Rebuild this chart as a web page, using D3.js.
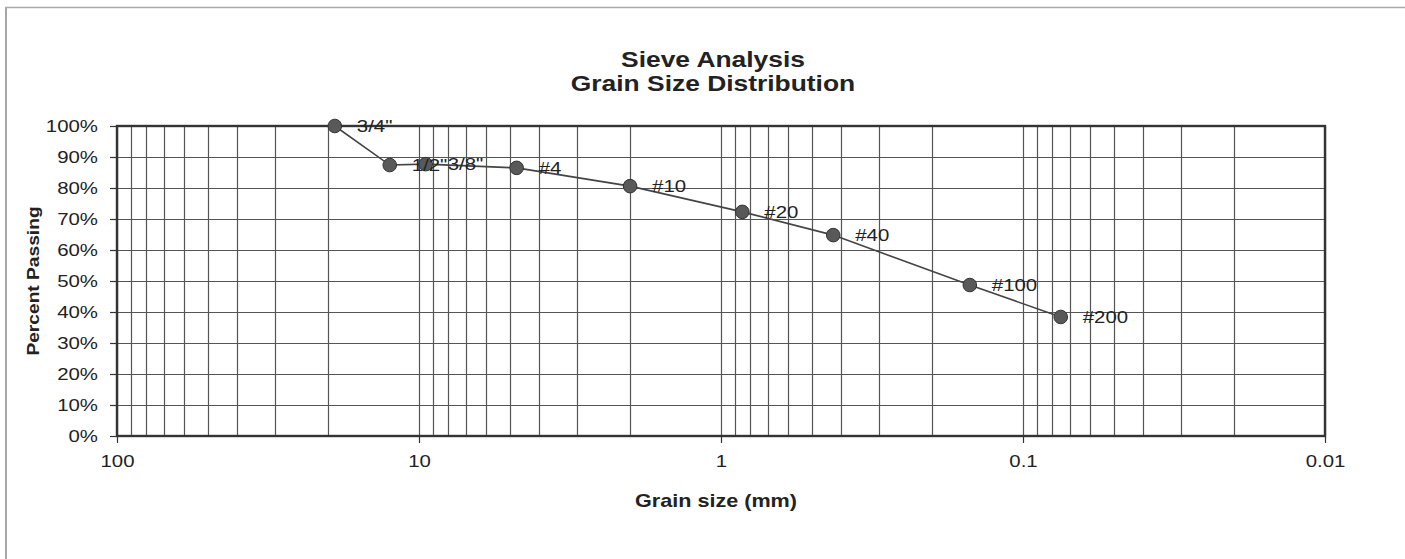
<!DOCTYPE html>
<html><head><meta charset="utf-8">
<script src="https://cdn.jsdelivr.net/npm/d3@7"></script>
<style>
html,body{margin:0;padding:0;background:#fff;}
svg{display:block;font-family:"Liberation Sans",Arial,Helvetica,sans-serif;}
</style></head>
<body>
<svg id="chart" width="1405" height="559"></svg>
<script>
const sieves = ["3/4\"", "1/2\"", "3/8\"", "#4", "#10", "#20", "#40", "#100", "#200"];
const grainSize = [19, 12.5, 9.5, 4.75, 2.0, 0.85, 0.425, 0.15, 0.075];
const percentPassing = [100, 87.4, 87.7, 86.5, 80.6, 72.3, 64.8, 48.7, 38.4];
const xTickValues = [100, 10, 1, 0.1, 0.01];
const xTickLabels = ["100", "10", "1", "0.1", "0.01"];
const yTickValues = [0,10,20,30,40,50,60,70,80,90,100];

const SX = 1.2; // horizontal stretch of the scanned lettering
const FONT = "'Liberation Sans',Arial,Helvetica,sans-serif";

const svg = d3.select("#chart");
const W = 1405, H = 559;
const m = {left:117, right:W-1325, top:126, bottom:H-436};
const iw = W - m.left - m.right, ih = H - m.top - m.bottom;

// outer frame
svg.append("line").attr("x1",6).attr("x2",6).attr("y1",7).attr("y2",H).attr("stroke","#888").attr("stroke-width",1.5);
svg.append("line").attr("x1",5).attr("x2",W).attr("y1",7.5).attr("y2",7.5).attr("stroke","#aaa").attr("stroke-width",1.5);

const x = d3.scaleLog().domain([100, 0.01]).range([0, iw]);
const y = d3.scaleLinear().domain([0, 100]).range([ih, 0]);

const g = svg.append("g").attr("transform",`translate(${m.left},${m.top})`);

// minor + major vertical grid
const gridVals = [];
for (let e = -2; e < 2; e++) {
  for (let k = 1; k <= 9; k++) gridVals.push(k * Math.pow(10, e));
}
gridVals.push(100);
g.append("g").selectAll("line").data(gridVals).join("line")
  .attr("x1", d => Math.round(x(d)) + 0.5).attr("x2", d => Math.round(x(d)) + 0.5)
  .attr("y1", 0).attr("y2", ih)
  .attr("stroke", "#555").attr("stroke-width", 1.2);

// horizontal grid
g.append("g").selectAll("line").data(yTickValues).join("line")
  .attr("x1", 0).attr("x2", iw)
  .attr("y1", d => Math.round(y(d)) + 0.5).attr("y2", d => Math.round(y(d)) + 0.5)
  .attr("stroke", "#555").attr("stroke-width", 1.2);

// plot border
g.append("rect").attr("x",0).attr("y",0).attr("width",iw).attr("height",ih)
  .attr("fill","none").attr("stroke","#333").attr("stroke-width",2.4);

function stretchAxisText(sel) {
  sel.each(function() {
    const t = d3.select(this);
    const xv = +t.attr("x") || 0;
    t.attr("x", xv / SX).attr("transform", `scale(${SX},1)`);
  });
}

// y axis
const yAxis = d3.axisLeft(y).tickValues(yTickValues).tickFormat(d => d + "%").tickSize(7).tickPadding(12);
const ya = g.append("g").call(yAxis);
ya.select(".domain").remove();
ya.selectAll(".tick line").attr("stroke","#333").attr("stroke-width",1.2);
ya.selectAll(".tick text").attr("font-size",17).attr("fill","#222").attr("font-family",FONT)
  .call(stretchAxisText);

// x axis
const xAxis = d3.axisBottom(x).tickValues(xTickValues)
  .tickFormat((d,i) => xTickLabels[i]).tickSize(7).tickPadding(12);
const xa = g.append("g").attr("transform",`translate(0,${ih})`).call(xAxis);
xa.select(".domain").remove();
xa.selectAll(".tick line").attr("stroke","#333").attr("stroke-width",1.2);
xa.selectAll(".tick text").attr("font-size",17).attr("fill","#222").attr("font-family",FONT)
  .call(stretchAxisText);

// data
const data = sieves.map((s,i) => ({s, d: grainSize[i], p: percentPassing[i]}));
const line = d3.line().x(d => x(d.d)).y(d => y(d.p));
g.append("path").datum(data).attr("d", line)
  .attr("fill","none").attr("stroke","#444").attr("stroke-width",1.6);

g.append("g").selectAll("circle").data(data).join("circle")
  .attr("cx", d => x(d.d)).attr("cy", d => y(d.p)).attr("r", 6.8)
  .attr("fill", "#595959").attr("stroke", "#333").attr("stroke-width", 1);

g.append("g").selectAll("text").data(data).join("text")
  .attr("transform", d => `translate(${x(d.d) + 22},${y(d.p) + 6}) scale(${SX},1)`)
  .attr("font-size", 17).attr("fill", "#222").text(d => d.s);

// titles
function stretchedText(parent, tx, ty, txt, size, bold, rot) {
  return parent.append("text")
    .attr("transform", `translate(${tx},${ty})${rot ? " rotate(" + rot + ")" : ""} scale(${SX},1)`)
    .attr("text-anchor","middle").attr("font-size", size)
    .attr("font-weight", bold ? "bold" : "normal").attr("fill","#222").text(txt);
}
stretchedText(svg, 713, 67, "Sieve Analysis", 22, true);
stretchedText(svg, 713, 91, "Grain Size Distribution", 22, true);
stretchedText(svg, 716, 507, "Grain size (mm)", 18, true);
stretchedText(svg, 39, m.top + ih/2, "Percent Passing", 16, true, -90);
</script>
</body></html>
